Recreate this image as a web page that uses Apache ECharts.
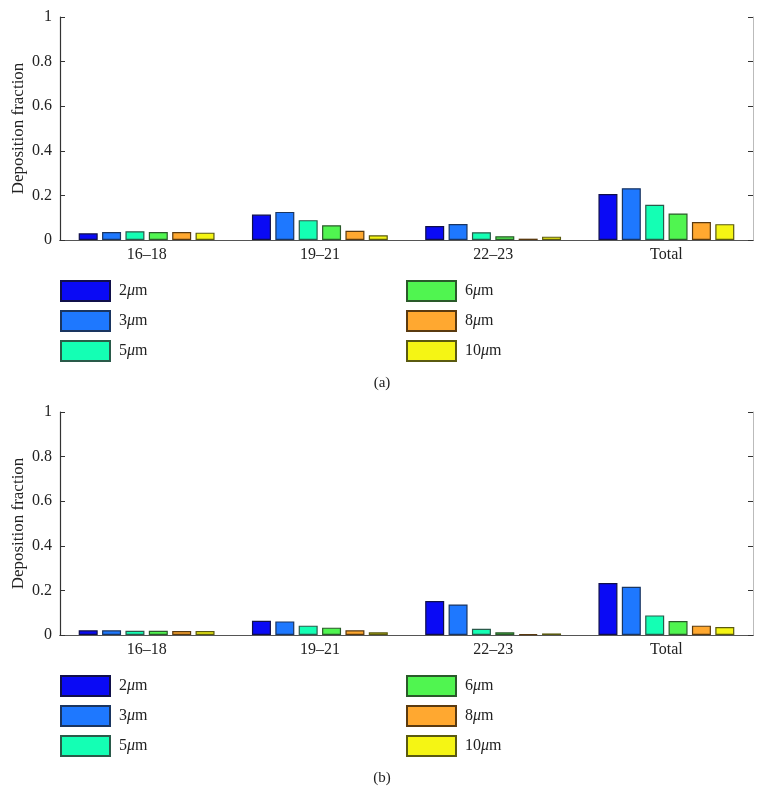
<!DOCTYPE html>
<html><head><meta charset="utf-8">
<script src="https://cdn.jsdelivr.net/npm/echarts@6/dist/echarts.min.js"></script>
<style>html,body{margin:0;padding:0;background:#fff}#c{width:764px;height:810px}</style>
</head><body><div id="c"></div>
<script>
const categories = ['16–18', '19–21', '22–23', 'Total'];
const sizeNames = ['2μm', '3μm', '5μm', '6μm', '8μm', '10μm'];
const sizeNums = ['2', '3', '5', '6', '8', '10'];
const colors = ['#0a0af5', '#1e78ff', '#14ffb4', '#50f550', '#ffa830', '#f5f514'];
const borders = ['#10104a', '#1a3560', '#2a5a4a', '#2a5a2a', '#5a3a10', '#5a5a10'];
const yTicks = [0, 0.2, 0.4, 0.6, 0.8, 1];
// panel (a)
const a2 = [0.030, 0.114, 0.063, 0.206];
const a3 = [0.036, 0.126, 0.072, 0.232];
const a5 = [0.039, 0.089, 0.035, 0.158];
const a6 = [0.036, 0.066, 0.017, 0.119];
const a8 = [0.036, 0.041, 0.006, 0.081];
const a10 = [0.033, 0.021, 0.015, 0.071];
// panel (b)
const b2 = [0.021, 0.064, 0.152, 0.233];
const b3 = [0.021, 0.061, 0.137, 0.216];
const b5 = [0.019, 0.042, 0.028, 0.088];
const b6 = [0.019, 0.033, 0.012, 0.063];
const b8 = [0.018, 0.021, 0.004, 0.042];
const b10 = [0.018, 0.012, 0.007, 0.036];
const panelA = [a2, a3, a5, a6, a8, a10];
const panelB = [b2, b3, b5, b6, b8, b10];
const captions = ['(a)', '(b)'];

const FONT = '"Liberation Serif", "DejaVu Serif", serif';
const tops = [17, 412];
const H = 223;

const grids = [], xAxes = [], yAxes = [], series = [], legends = [], titles = [];
[panelA, panelB].forEach((panel, p) => {
  grids.push({left: 60, right: 11, top: tops[p], height: H, containLabel: false, outerBoundsMode: 'none'});
  xAxes.push({type: 'category', gridIndex: p, data: categories, position: 'bottom',
    axisLine: {lineStyle: {color: '#333', width: 1.2}},
    axisTick: {inside: true, alignWithLabel: true, length: 5, lineStyle: {color: '#777'}},
    axisLabel: {fontFamily: FONT, fontSize: 16, color: '#222', margin: 7}});
  xAxes.push({type: 'category', gridIndex: p, data: categories, position: 'top',
    axisLine: {lineStyle: {color: '#555', width: 1.2}},
    axisTick: {inside: true, alignWithLabel: true, length: 5, lineStyle: {color: '#333'}},
    axisLabel: {show: false}});
  yAxes.push({type: 'value', gridIndex: p, min: 0, max: 1, interval: 0.2, position: 'left',
    name: 'Deposition fraction', nameLocation: 'middle', nameGap: 33, nameMoveOverlap: false,
    nameTextStyle: {fontFamily: FONT, fontSize: 17, color: '#222'},
    splitLine: {show: false},
    axisLine: {show: true, lineStyle: {color: '#333', width: 1.2}},
    axisTick: {show: true, inside: true, length: 5, lineStyle: {color: '#333'}},
    axisLabel: {fontFamily: FONT, fontSize: 16, color: '#222', margin: 8,
      formatter: v => (yTicks.includes(Math.round(v*10)/10) ? String(Math.round(v*10)/10) : '')}});
  yAxes.push({type: 'value', gridIndex: p, min: 0, max: 1, interval: 0.2, position: 'right',
    splitLine: {show: false},
    axisLine: {show: true, lineStyle: {color: '#bbb', width: 1}},
    axisTick: {show: true, inside: true, length: 5, lineStyle: {color: '#333'}},
    axisLabel: {show: false}});
  panel.forEach((vals, i) => {
    series.push({type: 'bar', name: sizeNames[i], xAxisIndex: p*2, yAxisIndex: p*2,
      data: vals, barWidth: 19, barGap: '23%',
      itemStyle: {color: colors[i], borderColor: borders[i], borderWidth: 1.2},
      emphasis: {disabled: true}});
  });
  const legTop = tops[p] + H + 40;
  [[0,1,2],[3,4,5]].forEach((idx, c) => {
    legends.push({orient: 'vertical', left: c === 0 ? 60 : 406, top: legTop, padding: 0,
      icon: 'rect', itemWidth: 49, itemHeight: 20, itemGap: 8, selectedMode: false,
      data: idx.map(k => sizeNames[k]),
      formatter: name => {
        const k = sizeNames.indexOf(name);
        return '{n|' + sizeNums[k] + '}{u|μ}{n|m}';
      },
      textStyle: {fontFamily: FONT, fontSize: 16, color: '#222', padding: [0,0,0,4], lineHeight: 20,
        rich: {n: {fontFamily: FONT, fontSize: 16, color: '#222', lineHeight: 20},
               u: {fontFamily: FONT, fontSize: 16, fontStyle: 'italic', color: '#222', lineHeight: 20}}}});
  });
  titles.push({text: captions[p], left: 'center', top: tops[p] + H + 131,
    textStyle: {fontFamily: FONT, fontSize: 15, fontWeight: 'normal', color: '#222'}});
});

const chart = echarts.init(document.getElementById('c'), null, {renderer: 'canvas'});
chart.setOption({animation: false, title: titles, grid: grids, xAxis: xAxes, yAxis: yAxes,
  legend: legends, series: series});
</script></body></html>
